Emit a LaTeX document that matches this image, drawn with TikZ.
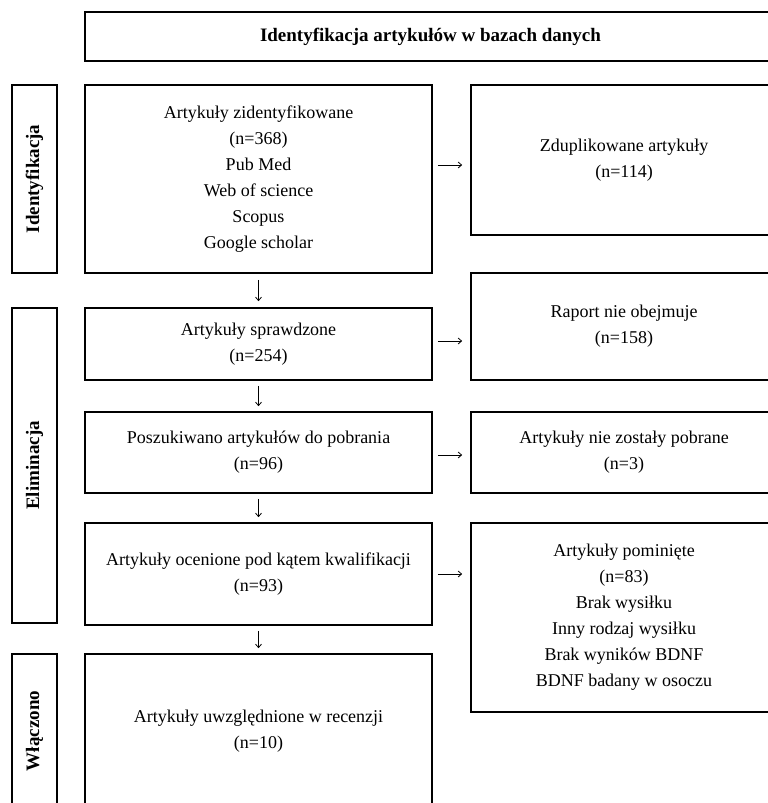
\documentclass[tikz,border=0pt]{standalone}
\usepackage{fontspec}
\setmainfont{Liberation Serif}
\usetikzlibrary{arrows.meta}
\begin{document}
\begin{tikzpicture}[x=1pt,y=-1pt,
  box/.style={draw=black,line width=1.6pt,rectangle,inner sep=0pt,align=center,
    font=\fontsize{18}{26}\selectfont},
  lab/.style={draw=black,line width=1.6pt,rectangle,inner sep=0pt,rotate=90,
    minimum height=45pt,font=\fontsize{19}{26}\selectfont\bfseries},
  arr/.style={line width=0.8pt,-{Straight Barb[length=3.5pt,width=6pt]}}
]
\useasboundingbox[fill=white] (0,0) rectangle (768,803);
\begin{scope}
\clip (0,0) rectangle (768,803);
% title
\node[box,minimum width=691pt,minimum height=49pt,font=\fontsize{19}{26}\selectfont\bfseries] (title) at (430.5,36.5) {Identyfikacja artykułów w bazach danych};
% labels
\node[lab,minimum width=188pt] (lab1) at (34.5,179) {Identyfikacja};
\node[lab,minimum width=315pt] (lab2) at (34.5,465.5) {Eliminacja};
\node[lab,minimum width=154pt] (lab3) at (34.5,731) {Włączono};
% main column
\node[box,minimum width=347pt,minimum height=188pt] (b1) at (258.5,179)
  {Artykuły zidentyfikowane\\(n=368)\\Pub Med\\Web of science\\Scopus\\Google scholar};
\node[box,minimum width=347pt,minimum height=72pt] (b2) at (258.5,344)
  {Artykuły sprawdzone\\(n=254)};
\node[box,minimum width=347pt,minimum height=81pt] (b3) at (258.5,452.5)
  {Poszukiwano artykułów do pobrania\\(n=96)};
\node[box,minimum width=347pt,minimum height=102pt] (b4) at (258.5,574)
  {Artykuły ocenione pod kątem kwalifikacji\\(n=93)};
\node[box,minimum width=347pt,minimum height=154pt] (b5) at (258.5,731)
  {Artykuły uwzględnione w recenzji\\(n=10)};
% right column
\node[box,minimum width=306pt,minimum height=150pt] (r1) at (624,160)
  {Zduplikowane artykuły\\(n=114)};
\node[box,minimum width=306pt,minimum height=107pt] (r2) at (624,326.5)
  {Raport nie obejmuje\\(n=158)};
\node[box,minimum width=306pt,minimum height=81pt] (r3) at (624,452.5)
  {Artykuły nie zostały pobrane\\(n=3)};
\node[box,minimum width=306pt,minimum height=189pt] (r4) at (624,617.5)
  {Artykuły pominięte\\(n=83)\\Brak wysiłku\\Inny rodzaj wysiłku\\Brak wyników BDNF\\BDNF badany w osoczu};
% arrow levels
\coordinate (h1) at (0,165);
\coordinate (h2) at (0,341);
\coordinate (h3) at (0,455);
\coordinate (h4) at (0,574);
\draw[arr,shorten <=5pt,shorten >=8pt] (b1.east |- h1) -- (r1.west |- h1);
\draw[arr,shorten <=5pt,shorten >=8pt] (b2.east |- h2) -- (r2.west |- h2);
\draw[arr,shorten <=5pt,shorten >=8pt] (b3.east |- h3) -- (r3.west |- h3);
\draw[arr,shorten <=5pt,shorten >=8pt] (b4.east |- h4) -- (r4.west |- h4);
% vertical arrows
\draw[arr,shorten <=6pt,shorten >=6pt] (b1.south) -- (b2.north);
\draw[arr,shorten <=5pt,shorten >=5pt] (b2.south) -- (b3.north);
\draw[arr,shorten <=5pt,shorten >=5pt] (b3.south) -- (b4.north);
\draw[arr,shorten <=5pt,shorten >=5pt] (b4.south) -- (b5.north);
\end{scope}
\end{tikzpicture}
\end{document}
